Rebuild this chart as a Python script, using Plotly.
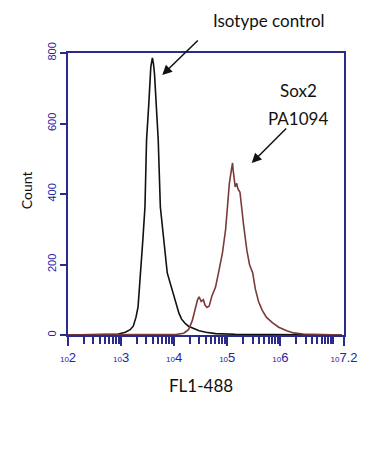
import plotly.graph_objects as go

# Isotype control histogram (log10 fluorescence, count)
iso_log = [2.0, 2.59, 2.95, 3.08, 3.17, 3.23, 3.28, 3.32, 3.37, 3.41, 3.45, 3.48, 3.52, 3.54, 3.56, 3.59,
           3.61, 3.63, 3.65, 3.68, 3.70, 3.74, 3.78, 3.81, 3.87, 3.92, 3.96, 4.00, 4.05, 4.09, 4.14,
           4.20, 4.27, 4.36, 4.47, 4.60, 4.78, 5.15, 6.25, 7.16]
iso_cnt = [0, 2, 3, 8, 15, 25, 50, 80, 176, 270, 363, 553, 650, 695, 760, 786,
           770, 740, 695, 600, 553, 363, 300, 250, 176, 150, 130, 108, 80, 62, 45,
           34, 25, 20, 12, 8, 4, 2, 1, 0]

# Sox2 PA1094 histogram
sox_log = [2.0, 2.59, 4.05, 4.18, 4.27, 4.34, 4.40, 4.44, 4.47, 4.51, 4.55, 4.58, 4.62, 4.66, 4.71,
           4.78, 4.84, 4.91, 4.97, 5.00, 5.04, 5.08, 5.10, 5.11, 5.13, 5.15, 5.18, 5.20, 5.24,
           5.27, 5.31, 5.37, 5.42, 5.48, 5.53, 5.59, 5.66, 5.74, 5.85, 5.97, 6.12, 6.25, 6.43,
           6.80, 7.16]
sox_cnt = [0, 0, 2, 5, 15, 40, 80, 100, 108, 95, 100, 85, 78, 82, 110,
           136, 180, 233, 300, 363, 430, 470, 488, 470, 435, 420, 430, 415, 405,
           360, 310, 240, 200, 176, 130, 95, 70, 50, 35, 22, 12, 6, 3,
           1, 0]

x_tick_exp = [2, 3, 4, 5, 6, 7.2]
x_tick_sup = ["2", "3", "4", "5", "6", "7.2"]
y_ticks = [0, 200, 400, 600, 800]

axis_col = "#2b2b8c"
tick_col = "#2525a5"

x_tick_text = ['<span style="font-size:8px">10</span>%s' % s for s in x_tick_sup]

fig = go.Figure()
fig.add_trace(go.Scatter(x=[10 ** v for v in iso_log], y=iso_cnt, mode="lines",
                         line=dict(color="#111111", width=1.6), showlegend=False))
fig.add_trace(go.Scatter(x=[10 ** v for v in sox_log], y=sox_cnt, mode="lines",
                         line=dict(color="#7a3a3a", width=1.6), showlegend=False))

fig.update_layout(
    width=369, height=452,
    margin=dict(l=68, r=17, t=53, b=117),
    paper_bgcolor="white", plot_bgcolor="white",
    font=dict(family="Liberation Sans", color=tick_col),
    xaxis=dict(type="log", range=[2, 7.2], showgrid=False, zeroline=False,
               showline=True, linecolor=axis_col, linewidth=2, mirror=True,
               ticks="outside", ticklen=9, tickwidth=2, tickcolor=axis_col,
               tickvals=[10 ** v for v in x_tick_exp], ticktext=x_tick_text,
               tickfont=dict(size=13, color=tick_col, family="Liberation Sans"),
               minor=dict(ticks="outside", ticklen=7, tickwidth=1.5, tickcolor=axis_col, dtick="D1")),
    yaxis=dict(range=[0, 800], showgrid=False, zeroline=False,
               showline=True, linecolor=axis_col, linewidth=2, mirror=True,
               ticks="outside", ticklen=6, tickwidth=2, tickcolor=axis_col,
               tickvals=y_ticks, tickangle=-90,
               tickfont=dict(size=11, color=tick_col, family="Liberation Sans")),
)

W, H = 284.0, 282.0
def px(x):
    return (x - 68) / W
def py(y):
    return (335 - y) / H

def label(x, y, text, size=17, angle=0):
    fig.add_annotation(x=px(x), y=py(y), xref="paper", yref="paper", text=text,
                       xanchor="center", yanchor="middle", showarrow=False, textangle=angle,
                       font=dict(family="Lato", size=size, color="#111111"))

label(275, 20, "Isotype control")
label(305, 90, "Sox2")
label(305, 118, "PA1094")
label(205, 385, "FL1-488")
label(25, 190, "Count", size=14, angle=-90)

# arrows
fig.add_annotation(x=px(165), y=py(75), xref="paper", yref="paper", text="",
                   showarrow=True, ax=37, ay=-36, arrowhead=2, arrowsize=1.3, arrowwidth=1.5,
                   arrowcolor="#111111")
fig.add_annotation(x=px(257), y=py(163), xref="paper", yref="paper", text="",
                   showarrow=True, ax=36, ay=-36, arrowhead=2, arrowsize=1.3, arrowwidth=1.5,
                   arrowcolor="#111111")

fig.write_html("out.html")
